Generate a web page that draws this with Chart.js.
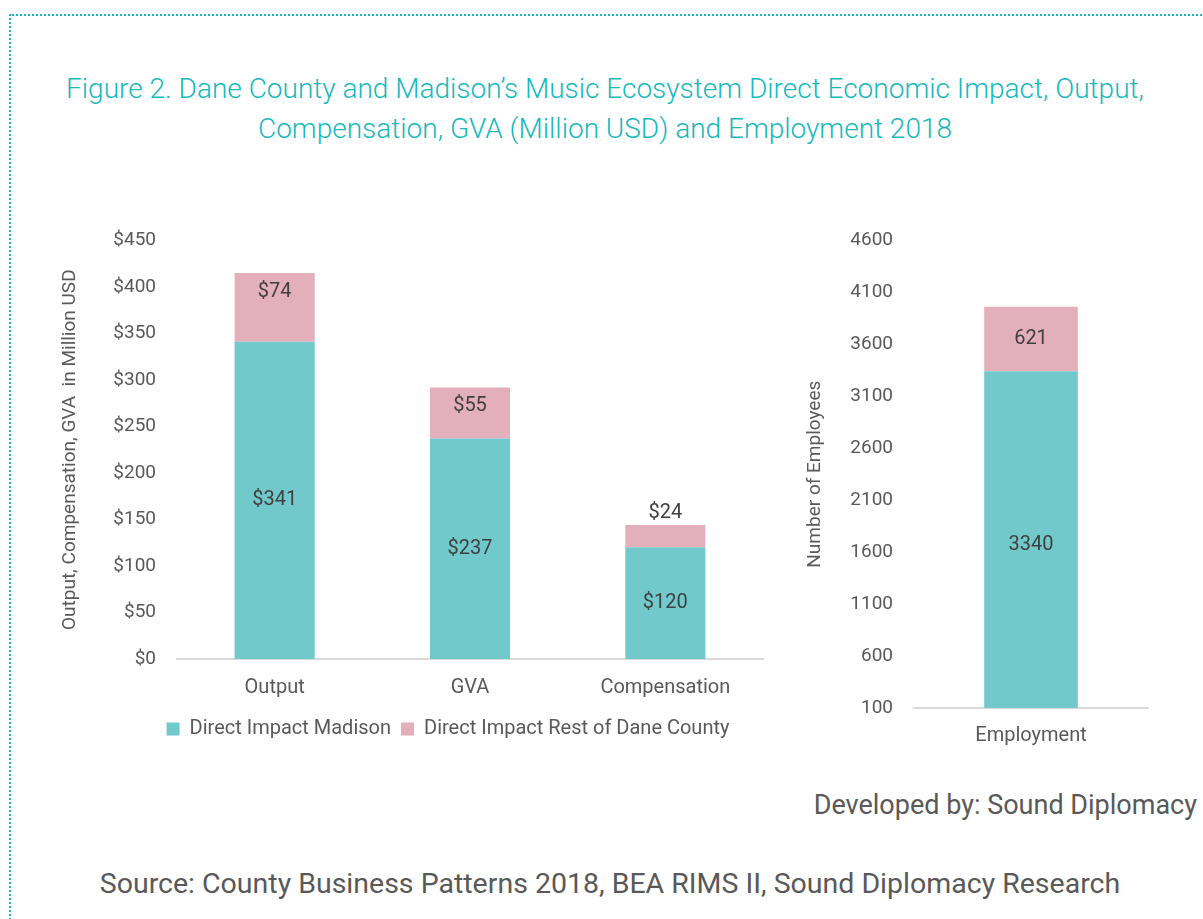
<!DOCTYPE html>
<html>
<head>
<meta charset="utf-8">
<script src="https://cdn.jsdelivr.net/npm/chart.js@4.4.1/dist/chart.umd.min.js"></script>
<style>
  body {
    margin: 0;
    width: 1203px;
    height: 919px;
    background: #fff;
    position: relative;
    overflow: hidden;
    font-family: Roboto, "Open Sans", sans-serif;
  }
  #frame {
    position: absolute;
    left: 9px;
    top: 14px;
    width: 1210px;
    height: 920px;
    border-top: 2px dotted #22b5bd;
    border-left: 2px dotted #22b5bd;
  }
  #title {
    position: absolute;
    left: 0;
    top: 69px;
    width: 1210px;
    text-align: center;
    color: #17b9bd;
    font-size: 28px;
    font-weight: 300;
    line-height: 40px;
  }
  .box { position: absolute; }
  #leftBox { left: 50px; top: 216px; width: 730px; height: 533px; }
  #rightBox { left: 795px; top: 216px; width: 370px; height: 540px; }
  #developed {
    position: absolute;
    right: 6px;
    top: 789px;
    font-size: 27px;
    color: #595959;
  }
  #source {
    position: absolute;
    left: 0;
    top: 867px;
    width: 1220px;
    text-align: center;
    font-size: 28.5px;
    color: #595959;
  }
</style>
</head>
<body>
<div id="frame"></div>
<div id="title">Figure 2. Dane County and Madison’s Music Ecosystem Direct Economic Impact, Output,<br>Compensation, GVA (Million USD) and Employment 2018</div>
<div class="box" id="leftBox"><canvas id="leftChart"></canvas></div>
<div class="box" id="rightBox"><canvas id="rightChart"></canvas></div>
<div id="developed">Developed by: Sound Diplomacy</div>
<div id="source">Source: County Business Patterns 2018, BEA RIMS II, Sound Diplomacy Research</div>

<script>
// --------------------------------------------
// datos
// --------------------------------------------

const impactCategories = ['Output', 'GVA', 'Compensation'];
const madisonImpact = [341, 237, 120];
const restImpact = [74, 55, 24];

const employmentCategories = ['Employment'];
const madisonEmployment = [3340];
const restEmployment = [621];

const seriesNames = ['Direct Impact Madison', 'Direct Impact Rest of Dane County'];

const TEAL = '#72c9cc';
const PINK = '#e2afba';
const TEXT = '#595959';

Chart.defaults.font.family = 'Roboto, "Open Sans", sans-serif';
Chart.defaults.color = TEXT;
Chart.defaults.animation = false;


// --------------------------------------------
// etiquetas de valores
// --------------------------------------------

const valueLabels = {
    id: 'valueLabels',
    afterDatasetsDraw(chart, args, opts) {
        const ctx = chart.ctx;
        ctx.save();
        ctx.font = '20px Roboto, "Open Sans", sans-serif';
        ctx.fillStyle = '#404040';
        ctx.textAlign = 'center';
        ctx.textBaseline = 'middle';
        chart.data.datasets.forEach((ds, di) => {
            const meta = chart.getDatasetMeta(di);
            meta.data.forEach((bar, i) => {
                const txt = (opts.prefix || '') + ds.data[i];
                const h = bar.base - bar.y;
                let y = bar.y + h / 2;
                if (di === 1 && opts.topLabels) {
                    y = h > 30 ? bar.y + 19 : bar.y - 12;
                }
                ctx.fillText(txt, bar.x, y);
            });
        });
        ctx.restore();
    }
};

// la leyenda del original queda un poco a la derecha
const legendShift = {
    id: 'legendShift',
    afterLayout(chart) {
        if (chart.legend) {
            chart.legend.left += 39;
            chart.legend.right += 39;
        }
    }
};


// --------------------------------------------
// grafica izquierda
// --------------------------------------------

new Chart(document.getElementById('leftChart'), {
    type: 'bar',
    data: {
        labels: impactCategories,
        datasets: [
            { label: seriesNames[0], data: madisonImpact, backgroundColor: TEAL },
            { label: seriesNames[1], data: restImpact, backgroundColor: PINK }
        ]
    },
    options: {
        responsive: true,
        maintainAspectRatio: false,
        layout: { padding: { top: 6, right: 17, bottom: 0, left: 5 } },
        categoryPercentage: 1,
        barPercentage: 0.41,
        plugins: {
            legend: {
                position: 'bottom',
                labels: {
                    boxWidth: 13,
                    boxHeight: 13,
                    padding: 10,
                    color: TEXT,
                    font: { size: 20 }
                }
            },
            tooltip: { enabled: false },
            valueLabels: { prefix: '$', topLabels: true }
        },
        scales: {
            x: {
                stacked: true,
                grid: { display: false },
                border: { color: '#d9d9d9', width: 2 },
                ticks: { color: TEXT, font: { size: 20 }, padding: 9 }
            },
            y: {
                stacked: true,
                min: 0,
                max: 450,
                afterFit: s => { s.width = 122; },
                grid: { display: false },
                border: { display: false },
                ticks: {
                    stepSize: 50,
                    padding: 13,
                    color: TEXT,
                    font: { size: 19 },
                    callback: v => '$' + v
                },
                title: {
                    display: true,
                    text: 'Output, Compensation, GVA  in Million USD',
                    color: TEXT,
                    font: { size: 19 }
                }
            }
        }
    },
    plugins: [valueLabels, legendShift]
});


// --------------------------------------------
// grafica derecha
// --------------------------------------------

new Chart(document.getElementById('rightChart'), {
    type: 'bar',
    data: {
        labels: employmentCategories,
        datasets: [
            { label: seriesNames[0], data: madisonEmployment, backgroundColor: TEAL },
            { label: seriesNames[1], data: restEmployment, backgroundColor: PINK }
        ]
    },
    options: {
        responsive: true,
        maintainAspectRatio: false,
        layout: { padding: { top: 6, right: 17, bottom: 0, left: 5 } },
        categoryPercentage: 1,
        barPercentage: 0.40,
        plugins: {
            legend: { display: false },
            tooltip: { enabled: false },
            valueLabels: { prefix: '', topLabels: false }
        },
        scales: {
            x: {
                stacked: true,
                grid: { display: false },
                border: { color: '#d9d9d9', width: 2 },
                ticks: { color: TEXT, font: { size: 20 }, padding: 8 }
            },
            y: {
                stacked: true,
                min: 100,
                max: 4600,
                afterFit: s => { s.width = 114; },
                grid: { display: false },
                border: { display: false },
                ticks: {
                    stepSize: 500,
                    padding: 13,
                    color: TEXT,
                    font: { size: 19 },
                    callback: v => String(v)
                },
                title: {
                    display: true,
                    text: 'Number of Employees',
                    color: TEXT,
                    font: { size: 19 }
                }
            }
        }
    },
    plugins: [valueLabels]
});
</script>
</body>
</html>
